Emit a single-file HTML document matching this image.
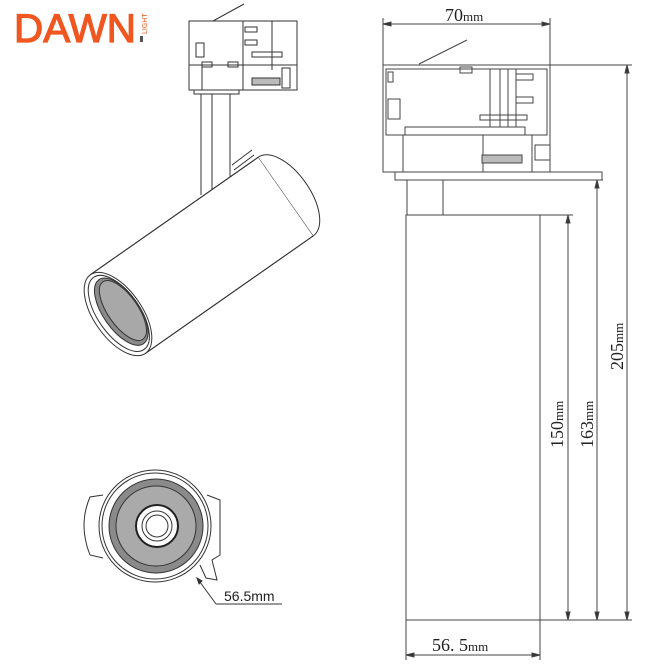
<!DOCTYPE html>
<html><head><meta charset="utf-8"><style>
body{margin:0;background:#fff}
svg{display:block}
</style></head><body>
<svg width="668" height="668" viewBox="0 0 668 668" xmlns="http://www.w3.org/2000/svg" fill="none" stroke="#333" stroke-width="1">
<!-- logo -->
<text x="14" y="42" font-family="Liberation Sans, sans-serif" font-size="40" fill="#f0561f" stroke="#f0561f" stroke-width="1.2" textLength="122" lengthAdjust="spacingAndGlyphs">DAWN</text>
<rect x="140" y="36" width="3" height="6" fill="#555" stroke="none"/>
<text transform="translate(147,34) rotate(-90)" font-family="Liberation Sans, sans-serif" font-size="7" fill="#f0561f" stroke="none">LIGHT</text>

<!-- left perspective adapter -->
<line x1="213" y1="21" x2="244" y2="4"/>
<rect x="189" y="21" width="108" height="69"/>
<line x1="243" y1="21" x2="243" y2="90"/>
<line x1="272" y1="21" x2="272" y2="70"/>
<line x1="189" y1="65" x2="297" y2="65"/>
<line x1="202" y1="65" x2="202" y2="90"/>
<rect x="245" y="27" width="12" height="5"/><rect x="245" y="40" width="12" height="5"/>
<rect x="252" y="52" width="30" height="5"/>
<rect x="202" y="62" width="10" height="5"/><rect x="228" y="62" width="10" height="5"/>
<rect x="252" y="78" width="28" height="7" fill="#bbb"/>
<rect x="282" y="68" width="8" height="20"/>
<rect x="196" y="43" width="8" height="14"/>
<rect x="194" y="90" width="45" height="4"/>
<!-- stem -->
<line x1="201" y1="94" x2="201" y2="195"/>
<line x1="212" y1="94" x2="212" y2="195"/>
<line x1="230" y1="94" x2="230" y2="190"/>
<line x1="232" y1="165" x2="252" y2="150"/><line x1="234" y1="170" x2="254" y2="155"/>
<!-- cylinder -->
<g transform="translate(118,314) rotate(-35)">
<rect x="0" y="-48" width="205" height="96" fill="#fff"/>
<path d="M205,-48 A24,48 0 0 1 205,48" fill="#fff"/>
<line x1="0" y1="-48" x2="205" y2="-48"/>
<line x1="0" y1="48" x2="205" y2="48"/>
<ellipse cx="0" cy="0" rx="24" ry="48" fill="#fff"/>
<ellipse cx="1" cy="0" rx="21" ry="44"/>
<ellipse cx="4" cy="0" rx="18" ry="39" fill="#8a8a8a"/>
<ellipse cx="6" cy="0" rx="15" ry="35" fill="#a8a8a8"/>
</g>

<!-- bottom view -->
<path d="M103,495 L90,497 Q78,525 90,555 L103,558"/>
<path d="M207,495 L220,500 L220,555 L212,560 L217,580 L206,578 L200,565"/>
<circle cx="155" cy="526" r="56" fill="#fff"/>
<circle cx="155" cy="526" r="53"/>
<circle cx="156" cy="526" r="47" fill="#8a8a8a"/>
<circle cx="156" cy="526" r="40" fill="#aaa"/>
<circle cx="157" cy="526" r="21" fill="#fff" stroke="#222" stroke-width="2"/>
<circle cx="157" cy="526" r="15"/>
<circle cx="157" cy="526" r="11"/>
<line x1="197" y1="578" x2="216" y2="604"/>
<line x1="216" y1="604" x2="282" y2="604"/>
<path d="M197,578 l2,6 l3,-3z" fill="#333"/>
<text x="224" y="601" font-family="Liberation Sans, sans-serif" font-size="14" fill="#222" stroke="none">56.5mm</text>

<!-- right elevation -->
<g stroke="#444">
<line x1="383" y1="18" x2="383" y2="65"/><line x1="550" y1="18" x2="550" y2="65"/>
<line x1="383" y1="24" x2="550" y2="24"/>
<path d="M383,24 l8,-2 v4z M550,24 l-8,-2 v4z" fill="#333"/>
<line x1="419" y1="64" x2="467" y2="40"/>
<rect x="383" y="65" width="167" height="107"/>
<rect x="386" y="69" width="161" height="66"/>
<line x1="386" y1="135" x2="547" y2="135"/>
<rect x="405" y="127" width="120" height="8"/>
<line x1="403" y1="135" x2="403" y2="172"/>
<line x1="483" y1="135" x2="483" y2="172"/>
<line x1="532" y1="135" x2="532" y2="172"/>
<rect x="482" y="155" width="40" height="8" fill="#bbb"/>
<rect x="460" y="67" width="12" height="6"/>
<rect x="490" y="69" width="10" height="58"/><rect x="508" y="69" width="8" height="58"/>
<rect x="516" y="74" width="17" height="6"/><rect x="516" y="97" width="17" height="6"/>
<rect x="480" y="115" width="47" height="5"/>
<rect x="388" y="72" width="5" height="10"/>
<rect x="388" y="99" width="12" height="20"/>
<rect x="535" y="145" width="15" height="15"/>
<rect x="395" y="172" width="207" height="8"/>
<rect x="407" y="180" width="36" height="35"/>
<rect x="406" y="215" width="134" height="405"/>
<line x1="540" y1="215" x2="573" y2="215"/>
<line x1="550" y1="65" x2="632" y2="65"/>
<line x1="540" y1="180" x2="603" y2="180"/>
<line x1="406" y1="620" x2="632" y2="620"/>
<!-- dims -->
<line x1="568" y1="215" x2="568" y2="620"/>
<line x1="597" y1="180" x2="597" y2="620"/>
<line x1="627" y1="65" x2="627" y2="620"/>
<path d="M568,215 l-2,8 h4z M568,620 l-2,-8 h4z M597,180 l-2,8 h4z M597,620 l-2,-8 h4z M627,65 l-2,8 h4z M627,620 l-2,-8 h4z" fill="#333"/>
<line x1="406" y1="620" x2="406" y2="660"/><line x1="540" y1="620" x2="540" y2="660"/>
<line x1="406" y1="655" x2="540" y2="655"/>
<path d="M406,655 l8,-2 v4z M540,655 l-8,-2 v4z" fill="#333"/>
</g>
<g font-family="Liberation Serif, serif" fill="#222" stroke="none" font-size="18">
<text x="445" y="21">70<tspan font-size="13">mm</tspan></text>
<text x="432" y="651">56. 5<tspan font-size="13">mm</tspan></text>
<text transform="translate(563,448) rotate(-90)">150<tspan font-size="13">mm</tspan></text>
<text transform="translate(593,448) rotate(-90)">163<tspan font-size="13">mm</tspan></text>
<text transform="translate(623,370) rotate(-90)">205<tspan font-size="13">mm</tspan></text>
</g>
</svg>
</body></html>
